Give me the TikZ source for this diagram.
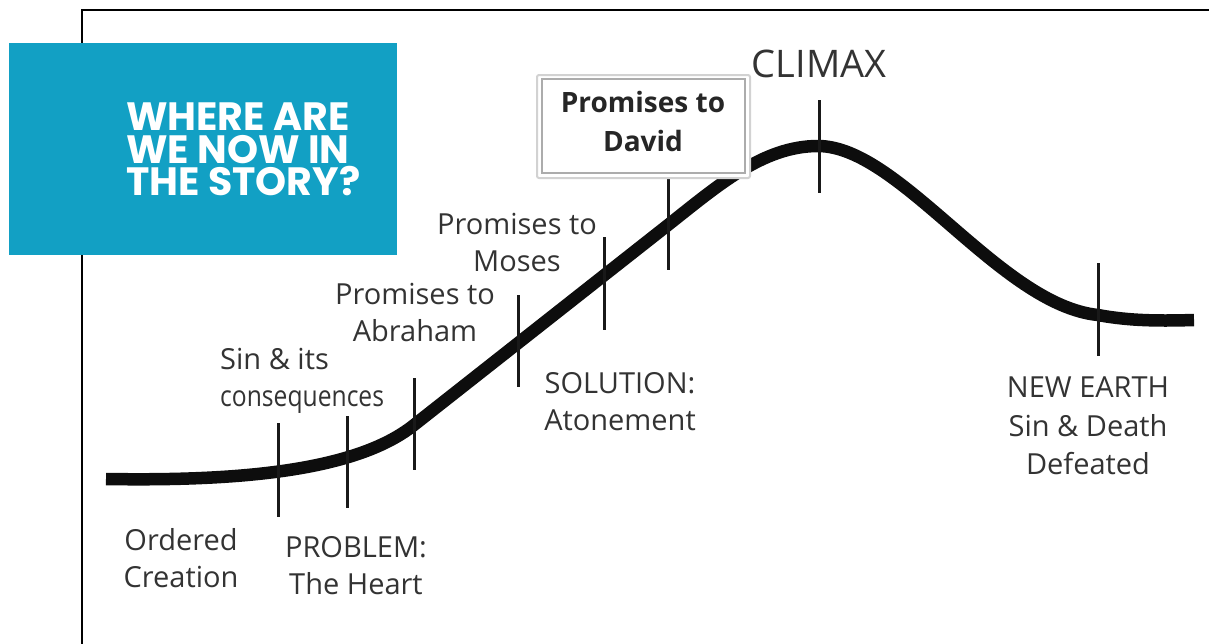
\documentclass[tikz,border=0pt]{standalone}
\usepackage{fontspec}
\setmainfont{Open Sans}
\newfontfamily\popfont{Poppins}
\definecolor{storyblue}{HTML}{12A0C4}
\definecolor{labelgray}{HTML}{333333}
\begin{document}
\begin{tikzpicture}[x=1pt,y=-1pt,
  lbl/.style={inner sep=0pt, text=labelgray, font=\fontsize{29}{37}\selectfont, align=center, anchor=north},
  tick/.style={line width=3pt, draw=black!90},
  story/.style={line width=12.5pt, draw=black!95, line cap=butt}]
\useasboundingbox (0,0) rectangle (1209,643);
% frame
\draw[line width=2pt, black] (82,660) -- (82,10) -- (1220,10);
% blue box
\node[fill=storyblue, minimum width=388pt, minimum height=212pt, inner sep=0pt, anchor=north west] (bluebox) at (9,43) {};
\node[anchor=north west, inner sep=0pt, text=white, align=left, font=\popfont\bfseries\fontsize{39.5}{32.5}\selectfont] (question) at (126,103) {WHERE ARE\\WE NOW IN\\THE STORY?};
% curve
\coordinate (c0) at (106,479);
\coordinate (c1) at (414,425);
\coordinate (c2) at (668,225);
\coordinate (c3) at (818,146);
\coordinate (c4) at (1098,315);
\coordinate (c5) at (1194,320);
\draw[story] (c0) .. controls (230,481) and (354,473) .. (c1)
  -- (c2) .. controls (718,185.5) and (763,146) .. (c3)
  .. controls (900,146) and (1000,305) .. (c4)
  .. controls (1130,321) and (1160,321) .. (c5);
% ticks
\coordinate (t1a) at (278,423); \coordinate (t1b) at (278,517);
\coordinate (t2a) at (347,416); \coordinate (t2b) at (347,508);
\coordinate (t3a) at (414,378); \coordinate (t3b) at (414,470);
\coordinate (t4a) at (518,295); \coordinate (t4b) at (518,387);
\coordinate (t5a) at (604,237); \coordinate (t5b) at (604,330);
\coordinate (t6a) at (668,176); \coordinate (t6b) at (668,270);
\coordinate (t7a) at (819,100); \coordinate (t7b) at (819,193);
\coordinate (t8a) at (1098,263); \coordinate (t8b) at (1098,356);
\foreach \i in {1,...,8} {\draw[tick] (t\i a) -- (t\i b);}
% David box
\draw[line width=2pt, draw=gray!35, fill=white, rounded corners=2pt] (537,75) rectangle (750,178);
\draw[line width=1.5pt, draw=gray!65] (542,79) rectangle (745,173);
\node[lbl, text=black!85, font=\bfseries\fontsize{28}{39}\selectfont] (david) at (643,91) {Promises to\\David};
% labels
\node[lbl] (ordered) at (181,528) {Ordered\\Creation};
\node[lbl] (problem) at (356,536) {PROBLEM:\\The Heart};
\node[lbl, align=left, anchor=north west] (sin) at (220,348) {Sin \& its\\\scalebox{0.85}[1]{consequences}};
\node[lbl] (abraham) at (415,283) {Promises to\\Abraham};
\node[lbl] (moses) at (517,213) {Promises to\\Moses};
\node[lbl] (solution) at (620,372) {SOLUTION:\\Atonement};
\node[lbl, font=\fontsize{29}{38.5}\selectfont] (newearth) at (1088,377) {NEW EARTH\\Sin \& Death\\Defeated};
\node[lbl, font=\fontsize{38}{40}\selectfont] (climax) at (819,50) {CLIMAX};
\end{tikzpicture}
\end{document}
